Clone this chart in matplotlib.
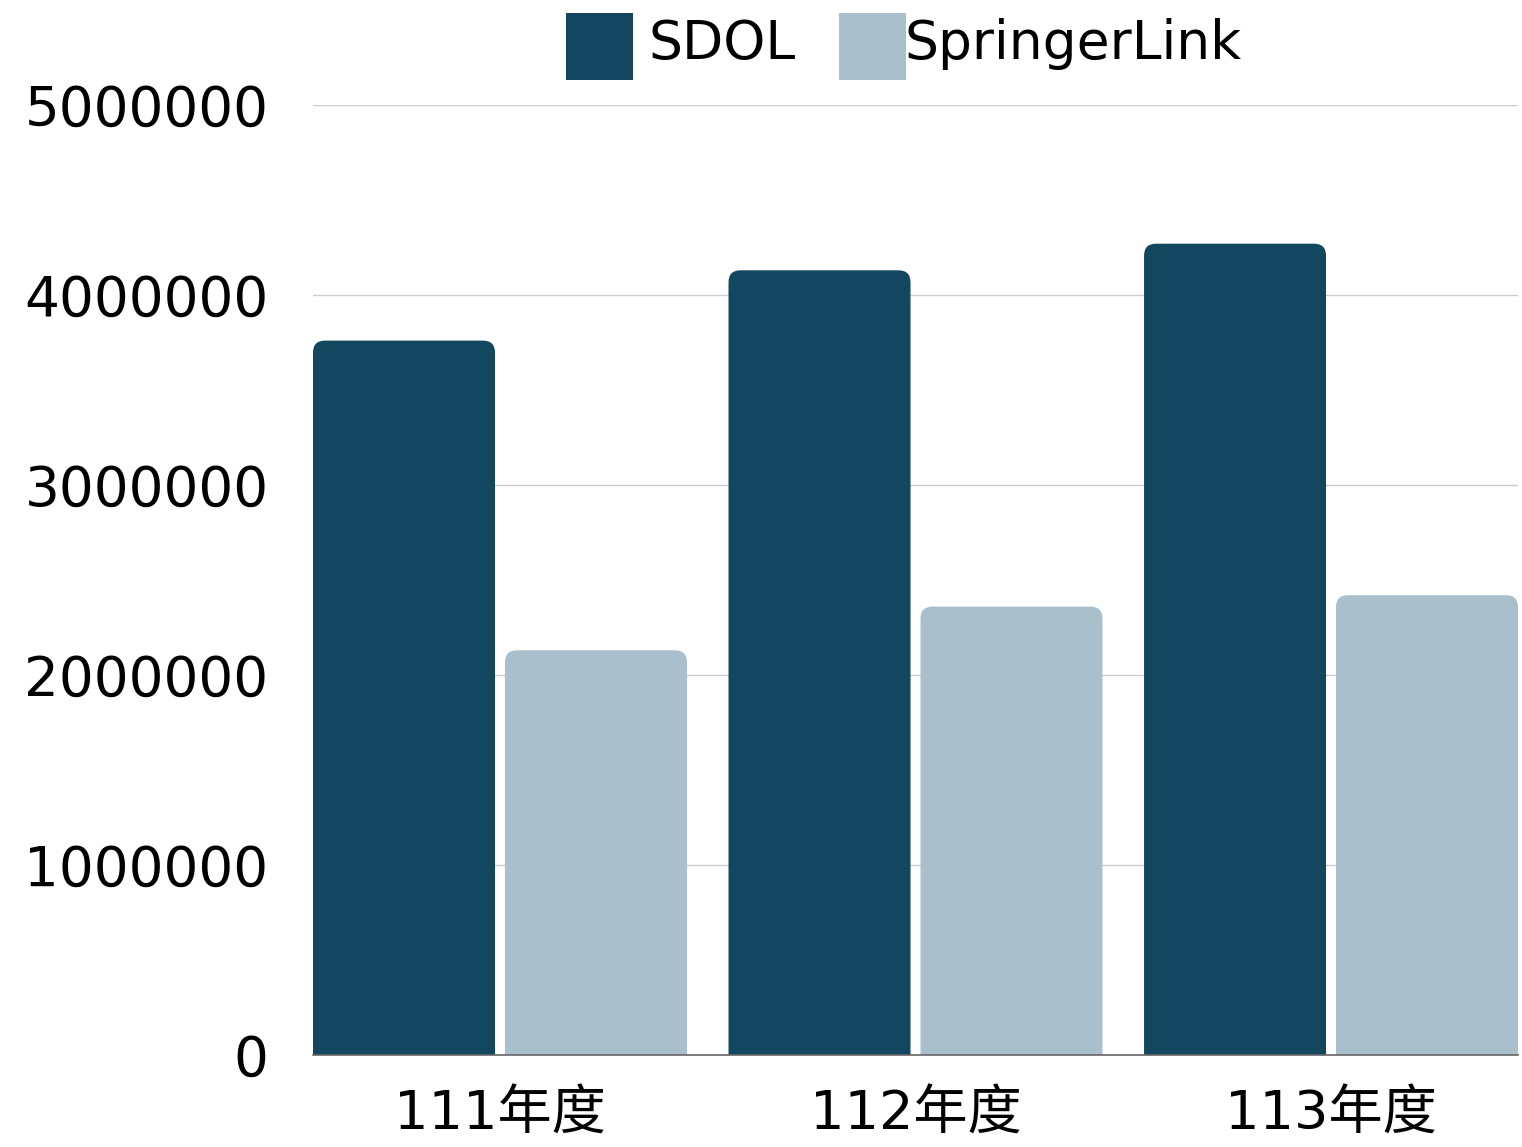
import numpy as np
import matplotlib; matplotlib.use("Agg")
import matplotlib.pyplot as plt
from matplotlib.patches import FancyBboxPatch, Rectangle

plt.rcParams['font.family'] = ['DejaVu Sans', 'Noto Sans CJK TC']

years = ['111年度', '112年度', '113年度']
sdol = [3760000, 4130000, 4270000]
springer = [2130000, 2360000, 2420000]
series_names = ['SDOL', 'SpringerLink']
colors = ['#12475f', '#a9bfcc']

W, H = 1522, 1147
fig = plt.figure(figsize=(W / 100, H / 100), dpi=100)
ax = fig.add_axes([313 / W, 92 / H, (1518 - 313) / W, (1055 - 105) / H])

x = np.arange(len(years))
bw = 0.438
off = 0.231
ax.set_xlim(-off - bw / 2, 2 + off + bw / 2)
ax.set_ylim(0, 5000000)

# pixels per data unit, used to keep the rounded corners circular
px_x = (1518 - 313) / (2 + 2 * off + bw)
px_y = (1055 - 105) / 5000000
r = 12 / px_x
aspect = px_x / px_y
below = 40 / px_y  # start bars under the axis so the bottom corners get clipped

for vals, c, o in [(sdol, colors[0], -off), (springer, colors[1], off)]:
    for xi, v in zip(x, vals):
        x0 = xi + o - bw / 2
        p = FancyBboxPatch((x0, -below), bw, v + below, boxstyle=f"round,pad=0,rounding_size={r}",
                           mutation_aspect=aspect, fc=c, ec='none', zorder=3)
        ax.add_patch(p)

ax.set_yticks(np.arange(0, 5000001, 1000000))
ax.set_yticklabels([str(v) for v in range(0, 5000001, 1000000)])
ax.set_xticks(x)
ax.set_xticklabels(years)
ax.grid(axis='y', color='#cccccc', lw=1, zorder=0)
ax.tick_params(axis='y', length=0, pad=32, labelsize=39.5)
ax.tick_params(axis='x', length=0, pad=24, labelsize=39)
for s in ['top', 'right', 'left']:
    ax.spines[s].set_visible(False)
ax.spines['bottom'].set_color('#666666')
ax.spines['bottom'].set_linewidth(1.2)
ax.spines['bottom'].set_zorder(4)

# legend
for (lx, tx), name, c in zip([(566, 648), (839, 904)], series_names, colors):
    fig.patches.append(Rectangle((lx / W, 1 - 80 / H), 67 / W, 67 / H, fc=c, ec='none',
                                 transform=fig.transFigure, figure=fig))
    fig.text(tx / W, 1 - 44 / H, name, fontsize=38.5, va='center', ha='left')

fig.savefig('out.png', dpi=100)
